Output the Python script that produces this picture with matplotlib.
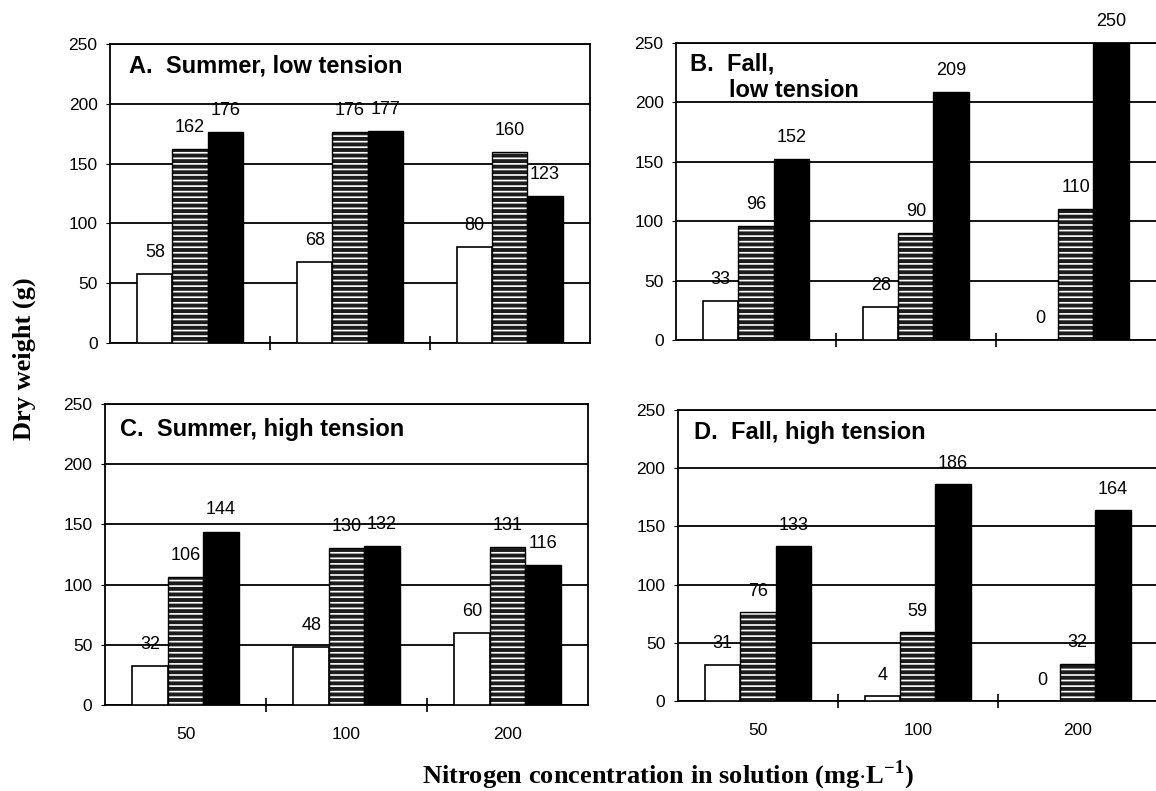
import matplotlib
matplotlib.use('Agg')
import matplotlib.pyplot as plt
import numpy as np

plt.rcParams['font.family'] = ['Liberation Sans', 'DejaVu Sans']
plt.rcParams['mathtext.fontset'] = 'custom'
plt.rcParams['mathtext.rm'] = 'Liberation Serif:bold'
plt.rcParams['hatch.linewidth'] = 1.2

# concentracoes de N (mg/L)
conc = ['50', '100', '200']
yticks = [0, 50, 100, 150, 200, 250]

# A. verao, baixa tensao
a_white = [58, 68, 80]
a_hatch = [162, 176, 160]
a_black = [176, 177, 123]
# B. outono, baixa tensao
b_white = [33, 28, 0]
b_hatch = [96, 90, 110]
b_black = [152, 209, 250]
# C. verao, alta tensao
c_white = [32, 48, 60]
c_hatch = [106, 130, 131]
c_black = [144, 132, 116]
# D. outono, alta tensao
d_white = [31, 4, 0]
d_hatch = [76, 59, 32]
d_black = [133, 186, 164]

fig = plt.figure(figsize=(11.56, 7.91), dpi=100)

# posicoes dos paineis em fracao da figura
pos = {
    'A': [0.0952, 0.5664, 0.415, 0.378],
    'B': [0.5848, 0.5702, 0.415, 0.3755],
    'C': [0.0908, 0.1087, 0.418, 0.3806],
    'D': [0.5865, 0.1138, 0.415, 0.368],
}

def painel(ax, white, hatch, black, xlabels, corta_direita=False):
    x = np.arange(len(conc))
    w = 0.22
    ax.bar(x - w, white, w, color='white', edgecolor='black', lw=1.2, zorder=3)
    ax.bar(x, hatch, w, color='#1c1c1c', edgecolor='white', lw=0, hatch='---', zorder=3)
    ax.bar(x, hatch, w, color='none', edgecolor='black', lw=1.0, zorder=4)
    ax.bar(x + w, black, w, color='black', edgecolor='black', lw=1.0, zorder=3)
    for off, vals in [(-w, white), (0, hatch), (w, black)]:
        for xi, v in zip(x, vals):
            ax.text(xi + off, v + 18, str(v), ha='center', va='center',
                    fontsize=13, clip_on=False, zorder=5)
    ax.set_xlim(-0.5, 2.5)
    ax.set_ylim(0, 250)
    ax.set_yticks(yticks)
    ax.set_yticklabels([str(t) for t in yticks], fontsize=12.5)
    ax.yaxis.grid(True, color='black', lw=1.3)
    ax.set_axisbelow(True)
    ax.tick_params(axis='y', length=3, pad=6)
    ax.set_xticks([0.5, 1.5], minor=True)
    ax.tick_params(axis='x', which='minor', direction='inout', length=10, width=1.2)
    ax.set_xticks(x)
    ax.tick_params(axis='x', which='major', length=0, pad=16)
    if xlabels:
        ax.set_xticklabels(conc, fontsize=12.5)
    else:
        ax.set_xticklabels([])
    for s in ax.spines.values():
        s.set_linewidth(1.3)
    if corta_direita:
        ax.spines['right'].set_visible(False)

axA = fig.add_axes(pos['A'])
painel(axA, a_white, a_hatch, a_black, False)
axA.text(0.04, 0.925, 'A.  Summer, low tension', transform=axA.transAxes,
         fontsize=17, fontweight='bold', va='center')

axB = fig.add_axes(pos['B'])
painel(axB, b_white, b_hatch, b_black, False, True)
axB.text(0.03, 0.93, 'B.  Fall,', transform=axB.transAxes,
         fontsize=17, fontweight='bold', va='center')
axB.text(0.11, 0.84, 'low tension', transform=axB.transAxes,
         fontsize=17, fontweight='bold', va='center')

axC = fig.add_axes(pos['C'])
painel(axC, c_white, c_hatch, c_black, True)
axC.text(0.032, 0.914, 'C.  Summer, high tension', transform=axC.transAxes,
         fontsize=17, fontweight='bold', va='center')

axD = fig.add_axes(pos['D'])
painel(axD, d_white, d_hatch, d_black, True, True)
axD.text(0.033, 0.924, 'D.  Fall, high tension', transform=axD.transAxes,
         fontsize=17, fontweight='bold', va='center')

fig.text(0.021, 0.546, 'Dry weight (g)', rotation=90, ha='center', va='center',
         fontsize=19, fontweight='bold', family=['Liberation Serif', 'DejaVu Serif'])
fig.text(0.578, 0.02, 'Nitrogen concentration in solution (mg$\\cdot$L$^{-1}$)',
         ha='center', va='center', fontsize=19, fontweight='bold',
         family=['Liberation Serif', 'DejaVu Serif'])

fig.savefig('out.png', dpi=100)
